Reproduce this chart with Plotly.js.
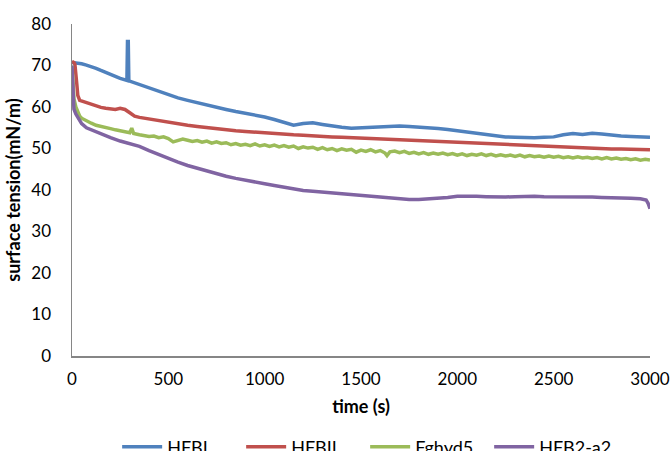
<!DOCTYPE html>
<html>
<head>
<meta charset="utf-8">
<script src="https://cdn.plot.ly/plotly-3.0.1.min.js"></script>
<style>html,body{margin:0;padding:0;background:#fff;}#chart{width:670px;height:451px;}</style>
</head>
<body>
<div id="chart"></div>
<script>
const seriesNames = ["HFBI", "HFBII", "Fghyd5", "HFB2-a2"];
const seriesColors = ["#4F81BD", "#C0504D", "#9BBB59", "#8064A2"];

const tHFBI = [0,25,50,75,100,125,150,175,200,225,250,275,285,288,292,295,325,350,400,450,500,550,600,650,700,750,800,850,900,950,1000,1050,1100,1150,1200,1250,1300,1350,1400,1450,1500,1550,1600,1650,1700,1750,1800,1850,1900,1950,2000,2050,2100,2150,2200,2250,2300,2350,2400,2450,2500,2550,2600,2650,2700,2750,2800,2850,2900,2950,3000];
const vHFBI = [70.7,70.6,70.4,70.1,69.8,69.3,68.8,68.4,67.8,67.4,66.9,66.5,66.4,75.8,75.8,66.3,65.8,65.4,64.6,63.8,63.0,62.2,61.6,61.0,60.4,59.9,59.4,58.9,58.5,58.0,57.6,57.0,56.3,55.6,56.0,56.2,55.8,55.4,55.1,54.9,55.0,55.1,55.2,55.4,55.4,55.3,55.2,55.0,54.8,54.6,54.3,54.0,53.6,53.2,52.9,52.8,52.7,52.6,52.6,52.7,52.8,53.3,53.6,53.4,53.7,53.5,53.2,53.0,52.9,52.8,52.7];

const tHFBII = [0,5,10,15,20,25,30,40,60,80,100,125,150,175,200,225,250,275,300,325,350,400,450,500,550,600,650,700,750,800,850,900,950,1000,1050,1100,1150,1200,1250,1300,1350,1400,1450,1500,1550,1600,1650,1700,1750,1800,1850,1900,1950,2000,2050,2100,2150,2200,2250,2300,2350,2400,2450,2500,2550,2600,2650,2700,2750,2800,2850,2900,2950,3000];
const vHFBII = [71.0,70.9,70.7,70.3,68.5,65.5,62.8,61.6,61.3,61.0,60.7,60.2,59.9,59.7,59.6,59.4,59.7,59.4,58.6,57.8,57.5,57.1,56.6,56.3,56.0,55.6,55.3,55.0,54.8,54.5,54.3,54.1,53.9,53.8,53.6,53.5,53.3,53.2,53.0,52.9,52.8,52.7,52.6,52.5,52.4,52.2,52.1,52.0,51.9,51.8,51.7,51.6,51.5,51.4,51.3,51.2,51.1,51.0,50.9,50.8,50.7,50.6,50.5,50.4,50.3,50.3,50.2,50.1,50.0,49.9,49.9,49.8,49.7,49.7];

const tFghyd5 = [0,5,10,20,30,40,50,75,100,125,150,175,200,225,250,275,300,310,320,350,375,400,425,450,475,500,525,550,575,600,625,650,675,700,725,750,775,800,825,850,875,900,925,950,975,1000,1025,1050,1075,1100,1125,1150,1175,1200,1225,1250,1275,1300,1325,1350,1375,1400,1425,1450,1475,1500,1525,1550,1575,1600,1625,1635,1650,1675,1700,1725,1750,1775,1800,1825,1850,1875,1900,1925,1950,1975,2000,2025,2050,2075,2100,2125,2150,2175,2200,2225,2250,2275,2300,2325,2350,2375,2400,2425,2450,2475,2500,2525,2550,2575,2600,2625,2650,2675,2700,2725,2750,2775,2800,2825,2850,2875,2900,2925,2950,2975,3000];
const vFghyd5 = [70.0,65.0,62.0,60.0,58.7,57.8,57.3,56.6,56.1,55.6,55.4,55.0,54.8,54.5,54.3,54.1,53.8,54.9,53.6,53.3,53.1,52.9,53.0,52.6,52.8,52.4,51.6,51.9,52.3,52.0,51.7,51.9,51.5,51.8,51.3,51.6,51.2,51.4,50.9,51.2,50.8,51.0,50.7,51.1,50.6,50.9,50.5,50.8,50.4,50.7,50.3,50.6,50.0,50.4,50.1,50.3,49.8,50.2,49.7,50.0,49.5,49.9,49.6,49.8,49.1,49.6,49.3,49.7,49.2,49.5,48.9,48.3,49.2,49.4,49.0,49.3,48.8,49.1,48.7,49.0,48.6,48.9,48.6,48.9,48.5,48.8,48.4,48.7,48.3,48.6,48.4,48.7,48.3,48.6,48.2,48.5,48.2,48.4,48.1,48.4,48.0,48.3,48.0,48.2,47.9,48.2,47.9,48.1,47.8,48.0,47.7,48.0,47.7,47.9,47.6,47.8,47.5,47.8,47.5,47.7,47.4,47.6,47.3,47.5,47.2,47.4,47.2];

const tHFB2a2 = [0,3,6,10,20,30,50,75,100,150,200,250,300,350,400,450,500,550,600,650,700,750,800,850,900,950,1000,1050,1100,1150,1200,1250,1300,1350,1400,1450,1500,1550,1600,1650,1700,1750,1800,1850,1900,1950,2000,2050,2100,2150,2200,2250,2300,2350,2400,2450,2500,2550,2600,2650,2700,2750,2800,2850,2900,2950,2980,2990,3000];
const vHFB2a2 = [70.0,65.0,61.0,59.5,58.3,57.5,56.0,55.0,54.5,53.5,52.6,51.8,51.2,50.5,49.5,48.5,47.6,46.7,45.9,45.2,44.5,43.9,43.3,42.8,42.3,41.9,41.5,41.1,40.7,40.2,39.9,39.7,39.5,39.3,39.1,38.9,38.6,38.4,38.2,38.0,37.8,37.7,37.7,37.8,38.0,38.2,38.5,38.6,38.5,38.4,38.3,38.3,38.4,38.5,38.5,38.4,38.4,38.5,38.4,38.3,38.3,38.2,38.2,38.1,38.0,37.9,37.6,36.8,35.5];

const xTicks = [0,500,1000,1500,2000,2500,3000];
const yTicks = [0,10,20,30,40,50,60,70,80];

const xs = [tHFBI, tHFBII, tFghyd5, tHFB2a2];
const ys = [vHFBI, vHFBII, vFghyd5, vHFB2a2];
const traces = seriesNames.map((n, i) => ({
  type: 'scatter', mode: 'lines', name: n,
  x: xs[i], y: ys[i],
  line: {color: seriesColors[i], width: 3.5}
}));

const fam = 'Lato, "Open Sans", sans-serif';
const layout = {
  width: 670, height: 451,
  margin: {l: 72, r: 20, t: 24, b: 95, autoexpand: false},
  paper_bgcolor: '#fff', plot_bgcolor: '#fff',
  font: {family: fam, size: 17, color: '#000'},
  showlegend: true,
  legend: {orientation: 'h', x: 0.545, xanchor: 'center', xref: 'container',
           y: 0.05, yanchor: 'top', yref: 'container', itemwidth: 40,
           entrywidth: 69, entrywidthmode: 'pixels',
           font: {family: fam, size: 18, color: '#000'}, traceorder: 'normal'},
  xaxis: {range: [0, 3000], tickvals: xTicks, ticktext: xTicks.map(String),
          showgrid: false, zeroline: false, showline: true, linecolor: '#868686', linewidth: 1.5,
          ticks: '', ticklabelstandoff: 7, automargin: false,
          title: {text: 'time (s)', font: {family: fam, size: 18, color: '#000', weight: 'bold'}, standoff: 12}},
  yaxis: {range: [0, 80], tickvals: yTicks, ticktext: yTicks.map(String),
          showgrid: false, zeroline: false, showline: true, linecolor: '#868686', linewidth: 1.5,
          ticks: '', ticklabelstandoff: 16, automargin: false,
          title: {text: 'surface tension(mN/m)', font: {family: fam, size: 18, color: '#000', weight: 'bold'}, standoff: 6}}
};
Plotly.newPlot('chart', traces, layout, {displayModeBar: false, staticPlot: true});
</script>
</body>
</html>
